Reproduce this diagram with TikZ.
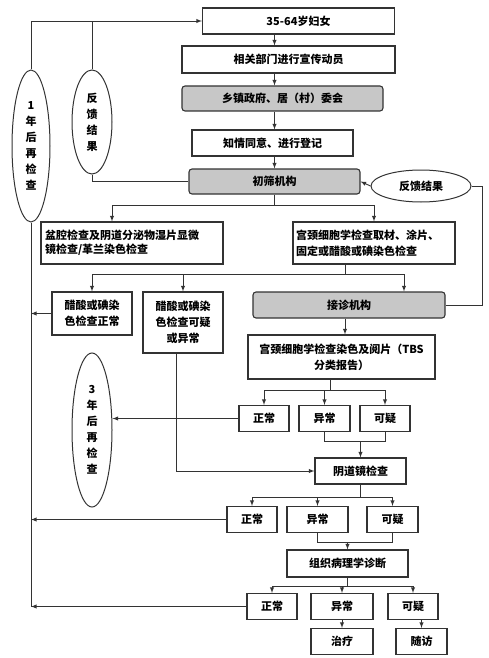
\documentclass[tikz,border=0pt]{standalone}
\usepackage{fontspec}
\setmainfont{Noto Sans CJK SC}
\usetikzlibrary{shapes.geometric,calc}

\begin{document}
\begin{tikzpicture}
[x=1pt,y=-1pt,
  boxPlain/.style={shape=rectangle,draw=black!80,line width=1.1pt,fill=white,inner sep=2pt,
    font=\fontsize{11}{16}\selectfont\bfseries,align=center},%
  boxGray/.style={boxPlain,fill=black!22,rounded corners=3pt},%
  boxLeft/.style={boxPlain,align=left,text width=#1},%
  noteEllipse/.style={shape=ellipse,draw=black!80,line width=1pt,fill=white,inner sep=0pt,
    font=\fontsize{11}{16}\selectfont\bfseries,align=center},%
  linePlain/.style={-,draw=black!80,line width=0.9pt},%
  lineArrow/.style={linePlain,-latex}]
\useasboundingbox (0,0) rectangle (488,658);
%% main column
\node (women) at (298.5,21) [boxPlain,minimum width=192pt,minimum height=26pt] {35-64岁妇女};
\node (publicity) at (288.5,59.5) [boxPlain,minimum width=213pt,minimum height=27pt] {相关部门进行宣传动员};
\node (township) at (282.5,98.5) [boxGray,minimum width=201pt,minimum height=25pt] {乡镇政府、居（村）委会};
\node (consent) at (272.5,143) [boxPlain,minimum width=161pt,minimum height=26pt] {知情同意、进行登记};
\node (screen) at (274.5,181.5) [boxGray,minimum width=171pt,minimum height=25pt] {初筛机构};
%% ellipses
\node (yearOne) at (31,146) [noteEllipse,minimum width=38pt,minimum height=152pt] {1\\年\\后\\再\\检\\查};
\node (feedLeft) at (92,122) [noteEllipse,minimum width=40pt,minimum height=104pt] {反\\馈\\结\\果};
\node (feedRight) at (421,186) [noteEllipse,minimum width=100pt,minimum height=32pt] {反馈结果};
\node (yearThree) at (92,430) [noteEllipse,minimum width=40pt,minimum height=154pt] {3\\年\\后\\再\\检\\查};
%% first tests
\node (pelvic) at (132,243) [boxLeft=174pt,minimum width=182pt,minimum height=42pt,
  font=\fontsize{11}{14}\selectfont\bfseries]
  {盆腔检查及阴道分泌物湿片显微\\镜检查/革兰染色检查};
\node (cervix) at (374,243) [boxLeft=156pt,minimum width=162pt,minimum height=42pt]
  {宫颈细胞学检查取材、涂片、\\固定或醋酸或碘染色检查};
\node (viaNormal) at (92,313.5) [boxPlain,minimum width=80pt,minimum height=43pt] {醋酸或碘染\\色检查正常};
\node (viaAbnormal) at (183,322.5) [boxPlain,minimum width=80pt,minimum height=61pt] {醋酸或碘染\\色检查可疑\\或异常};
\node (referral) at (349,305) [boxGray,minimum width=192pt,minimum height=26pt] {接诊机构};
\node (tbs) at (341.5,357) [boxPlain,minimum width=187pt,minimum height=44pt] {宫颈细胞学检查染色及阅片（TBS\\分类报告）};
\node (colpo) at (360.5,471) [boxPlain,minimum width=91pt,minimum height=26pt] {阴道镜检查};
\node (histo) at (347.5,563.5) [boxPlain,minimum width=121pt,minimum height=27pt] {组织病理学诊断};
%% result rows
\foreach \nodename/\x/\y/\w/\txt in {normA/264/418.5/50/正常, abnA/324.5/418.5/51/异常,
  suspA/385/418.5/50/可疑, normB/252/519.5/50/正常, abnB/317.5/519.5/61/异常,
  suspB/392.5/519.5/51/可疑, normC/272/606.5/50/正常, abnC/342/606.5/62/异常,
  suspC/413/606.5/50/可疑, treat/342/641.5/62/治疗, follow/421.5/641.5/51/随访}
{
  \node (\nodename) at (\x,\y) [boxPlain,minimum width=\w pt,minimum height=26pt] {\txt};
}
%% connectors of the main column
\foreach \startnode/\endnode in {women/publicity, publicity/township, township/consent, consent/screen}
{
  \draw[lineArrow] (\startnode.south -| screen) -- (\endnode.north -| screen);
}
\draw[lineArrow] (yearOne.north) |- (women.west);
\draw[linePlain] (feedLeft.north) -- (feedLeft.north |- women.west);
\draw[linePlain] (screen.west) -| (feedLeft.south);
\draw[lineArrow] (feedRight.west) -- (screen.east);
\coordinate (rightTurn) at (482,186);
\draw[linePlain] (referral.east) -| (rightTurn) -- (feedRight.east);
\draw[linePlain] (yearOne.south) -- (yearOne.south |- normC.west);
%% first split
\draw[linePlain] (screen.south) -- ++(0,10.5) coordinate (splitOne);
\draw[lineArrow] (splitOne) -| ([xshift=-20pt]pelvic.north);
\draw[lineArrow] (splitOne) -| (cervix.north);
\draw[linePlain] ([xshift=-29pt]cervix.south) -- ++(0,10) coordinate (splitTwo);
\draw[lineArrow] (splitTwo) -| (viaNormal.north);
\draw[lineArrow] (splitTwo) -| (viaAbnormal.north);
\draw[lineArrow] (splitTwo) -| ([xshift=55pt]referral.north);
\draw[lineArrow] (viaNormal.west) -- (yearOne.south |- viaNormal.west);
\draw[lineArrow] (referral.south -| splitTwo) -- (tbs.north -| splitTwo);
\draw[lineArrow] ([xshift=-7pt]viaAbnormal.south) |- (colpo.west);
%% cytology results
\draw[linePlain] ([xshift=-11pt]tbs.south) -- ++(0,11) coordinate (splitThree);
\foreach \endnode in {normA, abnA, suspA}
{
  \draw[lineArrow] (splitThree) -| (\endnode.north);
}
\draw[lineArrow] (normA.west) -- (yearThree.east |- normA.west);
\draw[linePlain] (abnA.south) -- ++(0,9) coordinate (joinOne) -| (suspA.south);
\draw[lineArrow] (joinOne -| colpo) -- (colpo.north);
%% colposcopy results
\draw[linePlain] (colpo.south) -- ++(0,13) coordinate (splitFour);
\foreach \endnode in {normB, abnB, suspB}
{
  \draw[lineArrow] (splitFour) -| (\endnode.north);
}
\draw[lineArrow] (normB.west) -- (yearOne.south |- normB.west);
\draw[linePlain] (abnB.south) -- ++(0,9) coordinate (joinTwo) -| (suspB.south);
\draw[lineArrow] (joinTwo -| histo) -- (histo.north);
%% pathology results
\draw[linePlain] (histo.south) -- ++(0,9) coordinate (splitFive);
\foreach \endnode in {normC, abnC, suspC}
{
  \draw[lineArrow] (splitFive) -| (\endnode.north);
}
\draw[lineArrow] (normC.west) -- (yearOne.south |- normC.west);
\draw[lineArrow] (abnC.south) -- (treat.north);
\draw[lineArrow] (suspC.south -| follow) -- (follow.north);
\end{tikzpicture}
\end{document}
